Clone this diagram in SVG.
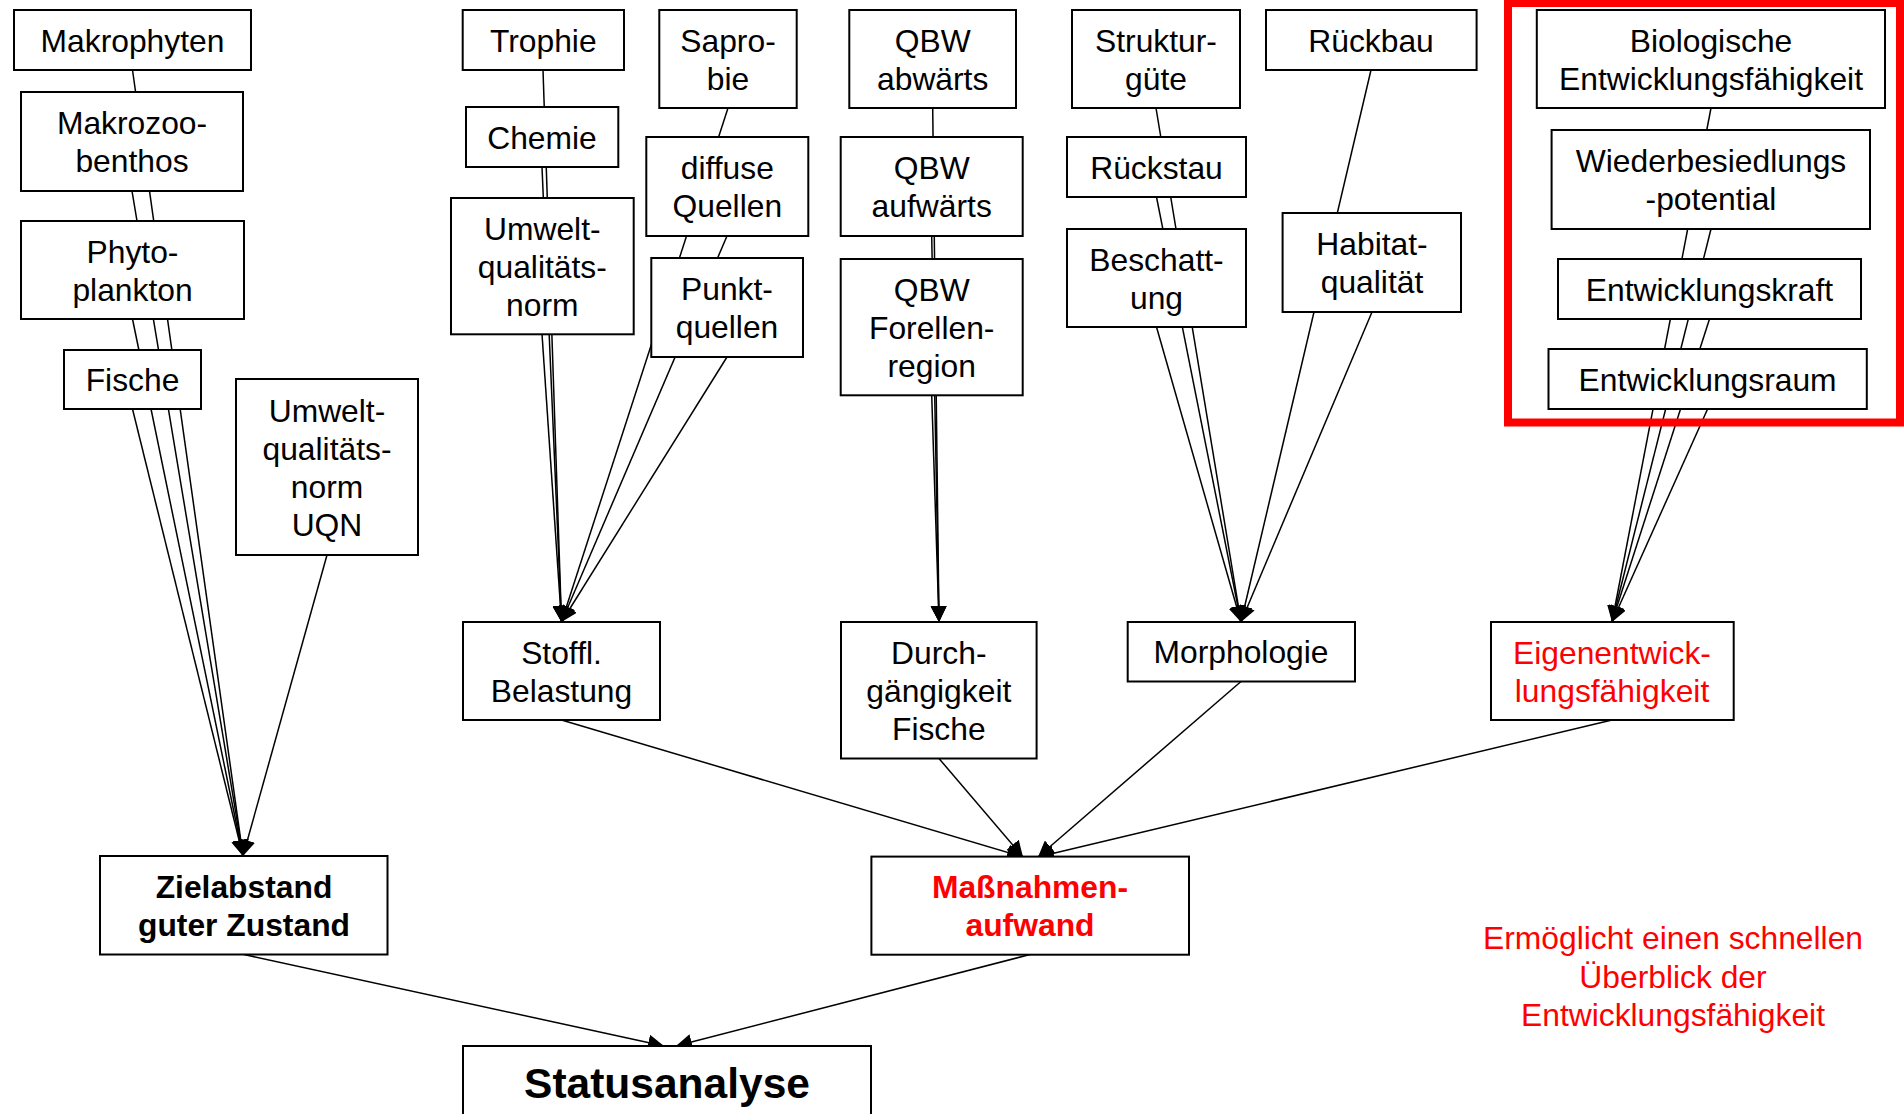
<svg xmlns="http://www.w3.org/2000/svg" width="1904" height="1114" viewBox="0 0 1904 1114">
  <style>
    .box { fill: #ffffff; stroke: #000000; stroke-width: 2; }
    .lnk { fill: none; stroke: #000000; stroke-width: 1.5; marker-end: url(#arrow); }
    .t { font-family: "Liberation Sans", Arial, sans-serif; font-size: 31.8px; text-anchor: middle; fill: #000000; }
    .b { font-weight: bold; }
    .red { fill: #ff0000; }
    .frame { fill: none; stroke: #ff0000; stroke-width: 8; }
  </style>
  <defs>
    <marker id="arrow" markerUnits="userSpaceOnUse" markerWidth="16" markerHeight="16" viewBox="0 0 16 16" refX="16" refY="8" orient="auto">
      <path d="M0,0 L16,8 L0,16 z" fill="#000000"/>
    </marker>
  </defs>
  <rect width="1904" height="1114" fill="#ffffff"/>

  <!-- connectors: drawn first so the white boxes cover the parts running behind them -->
  <g id="connectors">
    <!-- biology column to Zielabstand -->
    <line class="lnk" x1="132.5" y1="70" x2="243" y2="856"/>
    <line class="lnk" x1="132" y1="191" x2="243" y2="856"/>
    <line class="lnk" x1="132.5" y1="319" x2="243" y2="856"/>
    <line class="lnk" x1="132.5" y1="409" x2="243" y2="856"/>
    <line class="lnk" x1="327" y1="555" x2="243" y2="856"/>
    <!-- chemistry columns to Stoffl. Belastung -->
    <line class="lnk" x1="543" y1="70" x2="561.5" y2="622"/>
    <line class="lnk" x1="542" y1="167" x2="561.5" y2="622"/>
    <line class="lnk" x1="542" y1="334" x2="561.5" y2="622"/>
    <line class="lnk" x1="728" y1="108" x2="561.5" y2="622"/>
    <line class="lnk" x1="727" y1="236" x2="561.5" y2="622"/>
    <line class="lnk" x1="727" y1="357" x2="561.5" y2="622"/>
    <!-- QBW column to Durchgängigkeit -->
    <line class="lnk" x1="932.7" y1="108" x2="939" y2="622"/>
    <line class="lnk" x1="931.7" y1="236" x2="939" y2="622"/>
    <line class="lnk" x1="931.7" y1="395" x2="939" y2="622"/>
    <!-- structure columns to Morphologie -->
    <line class="lnk" x1="1156" y1="108" x2="1241" y2="622"/>
    <line class="lnk" x1="1156.5" y1="197" x2="1241" y2="622"/>
    <line class="lnk" x1="1156.5" y1="327" x2="1241" y2="622"/>
    <line class="lnk" x1="1371" y1="70" x2="1241" y2="622"/>
    <line class="lnk" x1="1372" y1="312" x2="1241" y2="622"/>
    <!-- development column to Eigenentwicklungsfähigkeit -->
    <line class="lnk" x1="1711" y1="108" x2="1612" y2="622"/>
    <line class="lnk" x1="1711" y1="229" x2="1612" y2="622"/>
    <line class="lnk" x1="1709.5" y1="319" x2="1612" y2="622"/>
    <line class="lnk" x1="1707.6" y1="409" x2="1612" y2="622"/>
    <!-- second level to Maßnahmenaufwand -->
    <line class="lnk" x1="561.5" y1="720" x2="1023" y2="857"/>
    <line class="lnk" x1="939" y1="758.5" x2="1023" y2="857"/>
    <line class="lnk" x1="1241" y1="681.5" x2="1038" y2="857"/>
    <line class="lnk" x1="1612" y1="720" x2="1038" y2="857"/>
    <!-- to Statusanalyse -->
    <line class="lnk" x1="244" y1="954.5" x2="664" y2="1046"/>
    <line class="lnk" x1="1030" y1="954.5" x2="676" y2="1046"/>
  </g>

  <!-- biology column -->
  <g id="makrophyten">
    <rect class="box" x="14" y="10" width="237" height="60"/>
    <text class="t" x="132.5" y="51.5">Makrophyten</text>
  </g>
  <g id="makrozoobenthos">
    <rect class="box" x="21" y="92" width="222" height="99"/>
    <text class="t" x="132" y="134">Makrozoo-</text>
    <text class="t" x="132" y="172">benthos</text>
  </g>
  <g id="phytoplankton">
    <rect class="box" x="21" y="221" width="223" height="98"/>
    <text class="t" x="132.5" y="262.5">Phyto-</text>
    <text class="t" x="132.5" y="300.5">plankton</text>
  </g>
  <g id="fische">
    <rect class="box" x="64" y="350" width="137" height="59"/>
    <text class="t" x="132.5" y="391">Fische</text>
  </g>
  <g id="uqn">
    <rect class="box" x="236" y="379" width="182" height="176"/>
    <text class="t" x="327" y="421.5">Umwelt-</text>
    <text class="t" x="327" y="459.5">qualitäts-</text>
    <text class="t" x="327" y="497.5">norm</text>
    <text class="t" x="327" y="535.5">UQN</text>
  </g>
  <g id="zielabstand">
    <rect class="box" x="100" y="856" width="287.5" height="98.5"/>
    <text class="t b" x="244" y="897.5">Zielabstand</text>
    <text class="t b" x="244" y="935.5">guter Zustand</text>
  </g>

  <!-- chemistry columns -->
  <g id="trophie">
    <rect class="box" x="462.7" y="10" width="161.3" height="60"/>
    <text class="t" x="543.3" y="51.5">Trophie</text>
  </g>
  <g id="chemie">
    <rect class="box" x="466" y="107" width="152.3" height="60"/>
    <text class="t" x="542" y="148.5">Chemie</text>
  </g>
  <g id="umweltqualitaetsnorm">
    <rect class="box" x="451" y="198" width="182.7" height="136.3"/>
    <text class="t" x="542.3" y="239.5">Umwelt-</text>
    <text class="t" x="542.3" y="277.5">qualitäts-</text>
    <text class="t" x="542.3" y="315.5">norm</text>
  </g>
  <g id="saprobie">
    <rect class="box" x="659.3" y="10" width="137.4" height="98"/>
    <text class="t" x="728" y="51.5">Sapro-</text>
    <text class="t" x="728" y="89.5">bie</text>
  </g>
  <g id="diffuse-quellen">
    <rect class="box" x="646.3" y="137" width="162" height="99"/>
    <text class="t" x="727.3" y="179">diffuse</text>
    <text class="t" x="727.3" y="217">Quellen</text>
  </g>
  <g id="punktquellen">
    <rect class="box" x="651.3" y="258" width="151.7" height="99"/>
    <text class="t" x="727" y="300">Punkt-</text>
    <text class="t" x="727" y="338">quellen</text>
  </g>
  <g id="stoffl-belastung">
    <rect class="box" x="463" y="622" width="197" height="98"/>
    <text class="t" x="561.5" y="663.5">Stoffl.</text>
    <text class="t" x="561.5" y="701.5">Belastung</text>
  </g>

  <!-- QBW column -->
  <g id="qbw-abwaerts">
    <rect class="box" x="849.3" y="10" width="166.7" height="98"/>
    <text class="t" x="932.7" y="51.5">QBW</text>
    <text class="t" x="932.7" y="89.5">abwärts</text>
  </g>
  <g id="qbw-aufwaerts">
    <rect class="box" x="840.7" y="137" width="182" height="99"/>
    <text class="t" x="931.7" y="179">QBW</text>
    <text class="t" x="931.7" y="217">aufwärts</text>
  </g>
  <g id="qbw-forellenregion">
    <rect class="box" x="840.7" y="259" width="182" height="136.3"/>
    <text class="t" x="931.7" y="300.5">QBW</text>
    <text class="t" x="931.7" y="338.5">Forellen-</text>
    <text class="t" x="931.7" y="376.5">region</text>
  </g>
  <g id="durchgaengigkeit">
    <rect class="box" x="841" y="622" width="195.6" height="136.5"/>
    <text class="t" x="938.8" y="663.5">Durch-</text>
    <text class="t" x="938.8" y="701.5">gängigkeit</text>
    <text class="t" x="938.8" y="739.5">Fische</text>
  </g>

  <!-- structure columns -->
  <g id="strukturguete">
    <rect class="box" x="1072" y="10" width="168" height="98"/>
    <text class="t" x="1156" y="51.5">Struktur-</text>
    <text class="t" x="1156" y="89.5">güte</text>
  </g>
  <g id="rueckstau">
    <rect class="box" x="1067" y="137" width="179" height="60"/>
    <text class="t" x="1156.5" y="178.5">Rückstau</text>
  </g>
  <g id="beschattung">
    <rect class="box" x="1067" y="229" width="179" height="98"/>
    <text class="t" x="1156.5" y="270.5">Beschatt-</text>
    <text class="t" x="1156.5" y="308.5">ung</text>
  </g>
  <g id="rueckbau">
    <rect class="box" x="1266" y="10" width="210.6" height="60"/>
    <text class="t" x="1371" y="51.5">Rückbau</text>
  </g>
  <g id="habitatqualitaet">
    <rect class="box" x="1282.6" y="213" width="178.4" height="99"/>
    <text class="t" x="1372" y="255">Habitat-</text>
    <text class="t" x="1372" y="293">qualität</text>
  </g>
  <g id="morphologie">
    <rect class="box" x="1127.7" y="622" width="227.3" height="59.5"/>
    <text class="t" x="1241" y="663">Morphologie</text>
  </g>

  <!-- development column inside the red frame -->
  <rect class="frame" x="1508" y="3" width="392" height="419.5"/>
  <g id="biologische-entwicklungsfaehigkeit">
    <rect class="box" x="1536.8" y="10" width="348.2" height="98"/>
    <text class="t" x="1711" y="51.5">Biologische</text>
    <text class="t" x="1711" y="89.5">Entwicklungsfähigkeit</text>
  </g>
  <g id="wiederbesiedlungspotential">
    <rect class="box" x="1551.6" y="130" width="318.4" height="99"/>
    <text class="t" x="1711" y="172">Wiederbesiedlungs</text>
    <text class="t" x="1711" y="210">-potential</text>
  </g>
  <g id="entwicklungskraft">
    <rect class="box" x="1558" y="259" width="303" height="60"/>
    <text class="t" x="1709.5" y="300.5">Entwicklungskraft</text>
  </g>
  <g id="entwicklungsraum">
    <rect class="box" x="1548.5" y="349" width="318.3" height="60"/>
    <text class="t" x="1707.6" y="390.5">Entwicklungsraum</text>
  </g>
  <g id="eigenentwicklungsfaehigkeit">
    <rect class="box" x="1491" y="622" width="242.7" height="98"/>
    <text class="t red" x="1612" y="663.5">Eigenentwick-</text>
    <text class="t red" x="1612" y="701.5">lungsfähigkeit</text>
  </g>

  <!-- lower levels -->
  <g id="massnahmenaufwand">
    <rect class="box" x="871.4" y="856.6" width="317.6" height="98.1"/>
    <text class="t b red" x="1030" y="898">Maßnahmen-</text>
    <text class="t b red" x="1030" y="936">aufwand</text>
  </g>
  <g id="statusanalyse">
    <rect class="box" x="463" y="1046" width="408" height="80"/>
    <text class="t b" x="667" y="1098" style="font-size:42.5px">Statusanalyse</text>
  </g>

  <!-- note -->
  <g id="hinweis">
    <text class="t red" x="1673" y="949">Ermöglicht einen schnellen</text>
    <text class="t red" x="1673" y="987.5">Überblick der</text>
    <text class="t red" x="1673" y="1026">Entwicklungsfähigkeit</text>
  </g>
</svg>
